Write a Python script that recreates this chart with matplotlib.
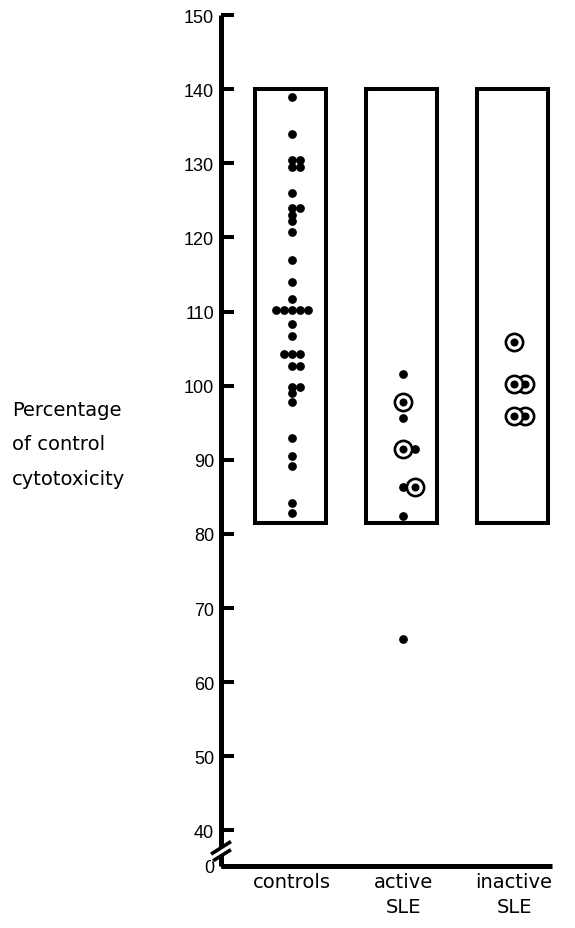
import numpy as np
import matplotlib
matplotlib.use("Agg")
import matplotlib.pyplot as plt
from matplotlib.patches import Rectangle, Polygon
import matplotlib.transforms as mtransforms

# ---------------- data ----------------
categories = ["controls", "active\nSLE", "inactive\nSLE"]

controls_values = [139, 134, 130.5, 130.5, 129.5, 129.5, 126, 124.0, 124.0,
                   123.0, 122.2, 120.7, 117, 114, 111.7,
                   110.2, 110.2, 110.2, 110.2, 110.2,
                   108.3, 106.7, 104.3, 104.3, 104.3, 102.6, 102.6,
                   99.8, 99.8, 99.0, 97.8, 92.9, 90.5, 89.2, 84.2, 82.8]
controls_circled = [False] * len(controls_values)

active_values = [101.6, 97.8, 95.7, 91.4, 91.4, 86.3, 86.3, 82.4, 65.8]
active_circled = [False, True, False, True, False, False, True, False, False]

inactive_values = [105.9, 100.2, 100.2, 95.9, 95.9]
inactive_circled = [True, True, True, True, True]

box_low, box_high = 81.5, 140
ytick_values = [40, 50, 60, 70, 80, 90, 100, 110, 120, 130, 140, 150]
ytick_labels = [str(v) for v in ytick_values]
axis_origin_label = "0"
ylabel_text = "Percentage\nof control\ncytotoxicity"

groups = [(controls_values, controls_circled),
          (active_values, active_circled),
          (inactive_values, inactive_circled)]

# ---------------- layout ----------------
W, H = 575, 929
fig = plt.figure(figsize=(W / 100, H / 100), dpi=100)
ax_l, ax_r, ax_b, ax_t = 221, 552, 867, 16
ax = fig.add_axes([ax_l / W, 1 - ax_b / H, (ax_r - ax_l) / W, (ax_b - ax_t) / H])
x_lo, x_hi = -0.64, 2.342
y_lo, y_hi = 35.2, 150
ax.set_xlim(x_lo, x_hi)
ax.set_ylim(y_lo, y_hi)
px_per_unit = (ax_r - ax_l) / (x_hi - x_lo)

for s in ["top", "right"]:
    ax.spines[s].set_visible(False)
for s in ["left", "bottom"]:
    ax.spines[s].set_linewidth(3.6)
    ax.spines[s].set_capstyle("butt")

num_font = "Liberation Sans"
word_font = "DejaVu Sans"

ax.set_yticks([y_lo] + ytick_values)
ax.set_yticklabels([axis_origin_label] + ytick_labels, fontsize=13,
                   family=num_font)
ax.tick_params(axis="y", direction="in", length=9.4, width=2.9, pad=5)

ax.set_xticks(range(len(categories)))
ax.set_xticklabels(categories, fontsize=14, family=word_font, linespacing=1.45)
ax.tick_params(axis="x", length=0, pad=4)

# boxes
for i in range(len(categories)):
    ax.add_patch(Rectangle((i - 0.33, box_low), 0.64, box_high - box_low,
                           fill=False, lw=2.9, ec="black", joinstyle="miter",
                           zorder=2))

# points
dot_s = 6.3 ** 2
ring_s = 12.4 ** 2
center_s = 5.8 ** 2
for gi, (vals, circ) in enumerate(groups):
    ties = {}
    for v, c in zip(vals, circ):
        ties.setdefault(v, []).append(c)
    for v, kinds in ties.items():
        if all(kinds):
            step = 11
        elif any(kinds):
            step = 12
        else:
            step = 8
        for r, c in enumerate(kinds):
            mag = (r + 1) // 2
            side = 1 if r % 2 == 1 else -1
            off = side * mag * step / px_per_unit
            x = gi + off
            if c:
                ax.scatter([x], [v], s=ring_s, facecolor="white", edgecolor="black",
                           linewidths=1.9, zorder=5 - 0.1 * r)
                ax.scatter([x], [v], s=center_s, color="black", lw=0, zorder=6)
            else:
                ax.scatter([x], [v], s=dot_s, color="black", lw=0, zorder=4)

# axis break
trans = mtransforms.blended_transform_factory(ax.transAxes, ax.transData)
gap = Polygon([(-0.03, 36.8), (0.03, 38.5), (0.03, 37.4), (-0.03, 35.7)],
              closed=True, fc="white", ec="none", transform=trans,
              clip_on=False, zorder=9)
ax.add_patch(gap)
ax.plot([-0.03, 0.03], [36.8, 38.5], color="black", lw=2.6, transform=trans,
        clip_on=False, zorder=10, solid_capstyle="butt")
ax.plot([-0.024, 0.03], [35.9, 37.4], color="black", lw=2.6, transform=trans,
        clip_on=False, zorder=10, solid_capstyle="butt")

# y label
fig.text(12 / W, 1 - 445 / H, ylabel_text, ha="left", va="center",
         fontsize=14, family=word_font, linespacing=2.05)

fig.savefig("out.png", dpi=100, facecolor="white")
